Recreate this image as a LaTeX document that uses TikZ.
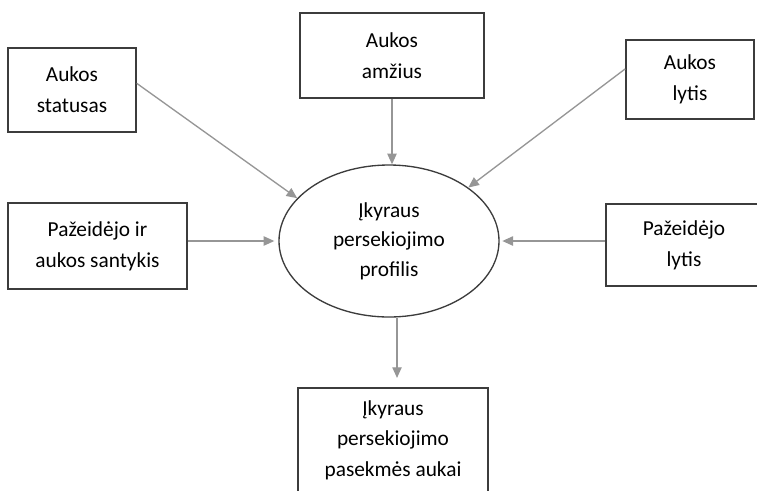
\documentclass[tikz,border=0pt]{standalone}
\usepackage{fontspec}
\setmainfont{Carlito}
\usepackage{xcolor}
\usepackage{tikz}
\usetikzlibrary{shapes.geometric,arrows.meta}

\definecolor{boxline}{RGB}{60,60,60}
\definecolor{arrowgray}{RGB}{150,150,150}

\begin{document}
\begin{tikzpicture}[x=0.75pt,y=0.75pt,yscale=-1,xscale=1,
    factor/.style={draw=boxline,line width=1.1pt,rectangle,inner sep=0pt,align=center,font=\fontsize{16}{23}\selectfont},
    profile/.style={draw=boxline,line width=1pt,ellipse,inner sep=0pt,align=center,font=\fontsize{16}{22}\selectfont},
    link/.style={draw=arrowgray,line width=1pt,-{Triangle[length=8pt,width=7pt]}}]
        \clip (0,0) rectangle (757,490);
        % outer factors
        \node (stat) at (72,90) [factor,minimum width=96pt,minimum height=63pt] {Aukos\\statusas};
        \node (amz) at (392,55.5) [factor,minimum width=138pt,minimum height=63.75pt] {Aukos\\amžius};
        \node (alyt) at (690,79.5) [factor,minimum width=96pt,minimum height=59.25pt] {Aukos\\lytis};
        \node (sant) at (97.5,246) [factor,minimum width=134.25pt,minimum height=64.5pt] {Pažeidėjo ir\\aukos santykis};
        \node (plyt) at (684,245) [factor,minimum width=117pt,minimum height=61.5pt] {Pažeidėjo\\lytis};
        % centre and result
        \node (prof) at (389,241) [profile,minimum width=165pt,minimum height=114pt] {Įkyraus\\persekiojimo\\profilis};
        \node (pas) at (393,440) [factor,minimum width=142.5pt,minimum height=78pt] {Įkyraus\\persekiojimo\\pasekmės aukai};
        % arrows
        \draw [link] ([yshift=-5pt]stat.east) -- (prof.155);
        \draw [link] (amz.south) -- (amz.south |- prof.north);
        \draw [link] ([yshift=-8pt]alyt.west) -- (prof.34);
        \draw [link,shorten >=3pt] (prof.west -| sant.east) -- (prof.west);
        \draw [link,shorten >=2pt] (prof.east -| plyt.west) -- (prof.east);
        \draw [link,shorten >=7pt] ([xshift=6pt]prof.south) -- ([xshift=6pt]prof.south |- pas.north);
\end{tikzpicture}
\end{document}
